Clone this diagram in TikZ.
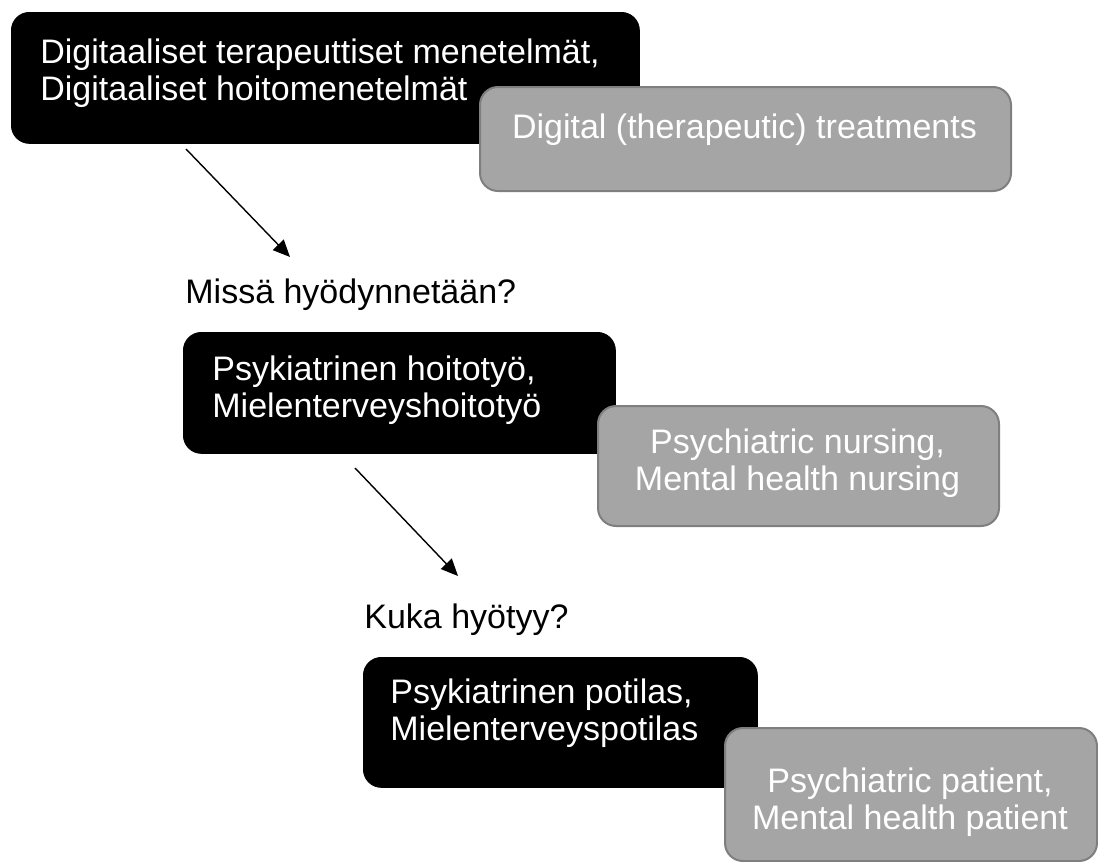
\documentclass[tikz,border=0pt]{standalone}
\usepackage{fontspec}
\setmainfont{Liberation Sans}
\usetikzlibrary{arrows.meta}
\definecolor{boxgray}{HTML}{A5A5A5}
\definecolor{edgegray}{HTML}{7F7F7F}
\begin{document}
\begin{tikzpicture}[x=0.5pt, y=-0.5pt,
    fibox/.style={fill=black, draw=black, rounded corners=9pt, anchor=north west, inner sep=0pt},
    enbox/.style={fill=boxgray, draw=edgegray, line width=1pt, rounded corners=9pt, anchor=north west, inner sep=0pt},
    fitext/.style={text=white, align=left, anchor=north west, inner sep=0pt, font=\fontsize{17}{18.5}\selectfont},
    entext/.style={text=white, align=center, anchor=north, inner sep=0pt, font=\fontsize{17}{18.5}\selectfont},
    question/.style={anchor=base west, inner sep=0pt, font=\fontsize{17}{18.5}\selectfont},
    link/.style={-{Triangle[length=8.5pt,width=7.5pt]}, line width=0.7pt}]
    \useasboundingbox (0,0) rectangle (1098,862);

    % level 1
    \node[fibox, minimum width=314pt, minimum height=65.5pt] (fi1) at (11,12) {};
    \node[fitext] (fi1txt) at (40,38) {Digitaaliset terapeuttiset menetelmät,\\Digitaaliset hoitomenetelmät};
    \node[enbox, minimum width=265.5pt, minimum height=52pt] (en1) at (479,86) {};
    \node[entext, anchor=base] (en1txt) at (744.5,138) {Digital (therapeutic) treatments};

    \coordinate (a1s) at (186,149);
    \coordinate (a1e) at (290,257);
    \draw[link] (a1s) -- (a1e);
    \node[question] (q1) at (185,303) {Missä hyödynnetään?};

    % level 2
    \node[fibox, minimum width=216pt, minimum height=60.5pt] (fi2) at (183,332) {};
    \node[fitext] (fi2txt) at (212,355) {Psykiatrinen hoitotyö,\\Mielenterveyshoitotyö};
    \node[enbox, minimum width=200.5pt, minimum height=60pt] (en2) at (597,405) {};
    \node[entext] (en2txt) at (797.5,428) {Psychiatric nursing,\\Mental health nursing};

    \coordinate (a2s) at (355,468);
    \coordinate (a2e) at (458,576);
    \draw[link] (a2s) -- (a2e);
    \node[question] (q2) at (364,628) {Kuka hyötyy?};

    % level 3
    \node[fibox, minimum width=197pt, minimum height=65pt] (fi3) at (363,657) {};
    \node[fitext] (fi3txt) at (390,678) {Psykiatrinen potilas,\\Mielenterveyspotilas};
    \node[enbox, minimum width=186pt, minimum height=66.5pt] (en3) at (724,727) {};
    \node[entext] (en3txt) at (910,767) {Psychiatric patient,\\Mental health patient};
\end{tikzpicture}
\end{document}
